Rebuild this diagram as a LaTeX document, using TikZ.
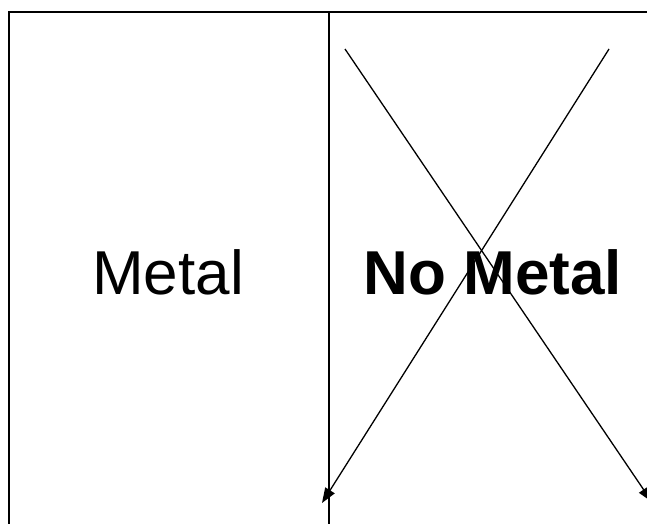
\documentclass[tikz,border=0pt]{standalone}
\usepackage{fontspec}
\setmainfont{Liberation Sans}
\usetikzlibrary{arrows.meta}
\begin{document}
\begin{tikzpicture}[x=1pt,y=-1pt,>={Triangle[length=15pt,width=11pt]},font=\fontsize{62}{74}\selectfont]
  \clip (0,0) rectangle (647,523);
  \draw[line width=2pt] (9,12) rectangle (670,545);
  \draw[line width=1.5pt] (329,12) -- (329,545);
  \node[anchor=base] (metal) at (168,294) {Metal};
  \node[anchor=base,font=\fontsize{62}{74}\selectfont\bfseries] (nometal) at (493,294) {No Metal};
  \coordinate (tl) at (345,49);
  \coordinate (tr) at (609,49);
  \coordinate (bl) at (322,503);
  \coordinate (br) at (652,502);
  \draw[->,line width=1.3pt] (tl) -- (br);
  \draw[->,line width=1.3pt] (tr) -- (bl);
\end{tikzpicture}
\end{document}
